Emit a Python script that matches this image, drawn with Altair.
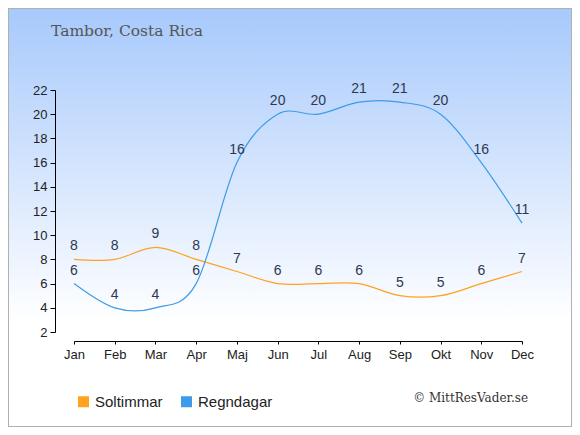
import altair as alt
import pandas as pd

months = ["Jan", "Feb", "Mar", "Apr", "Maj", "Jun", "Jul", "Aug", "Sep", "Okt", "Nov", "Dec"]
soltimmar = [8, 8, 9, 8, 7, 6, 6, 6, 5, 5, 6, 7]
regndagar = [6, 4, 4, 6, 16, 20, 20, 21, 21, 20, 16, 11]
series = ["Soltimmar", "Regndagar"]
colors = ["#ffa21f", "#3d9be9"]
y_ticks = list(range(2, 23, 2))
title_text = "Tambor, Costa Rica"
credit_text = "© MittResVader.se"

W, H = 448, 242
PL, PT, PR, PB = 66, 82, 50, 95

rows = []
for i, m in enumerate(months):
    rows.append({"month": m, "serie": series[0], "value": soltimmar[i]})
    rows.append({"month": m, "serie": series[1], "value": regndagar[i]})
df = pd.DataFrame(rows)

x = alt.X("month:O", sort=months, title=None,
          scale=alt.Scale(type="point", padding=0),
          axis=alt.Axis(labelAngle=0, offset=9, tickSize=3, labelPadding=4, zindex=2,
                        labelFont="Liberation Sans", labelFontSize=13, labelColor="#222",
                        labelOverlap=False,
                        domainColor="#000", tickColor="#000", grid=False))
y = alt.Y("value:Q", title=None,
          scale=alt.Scale(domain=[2, 22], nice=False, zero=False),
          axis=alt.Axis(values=y_ticks, offset=19, tickSize=5, labelPadding=3, zindex=2,
                        labelFont="Liberation Sans", labelFontSize=13, labelColor="#222",
                        labelOverlap=False,
                        domainColor="#000", tickColor="#000", grid=False))
cscale = alt.Scale(domain=series, range=colors)
legend = alt.Legend(title=None, orient="none", legendX=2, legendY=304,
                    direction="horizontal", symbolType="square", zindex=2,
                    symbolSize=121, symbolStrokeWidth=0, symbolOpacity=1,
                    labelFont="Liberation Sans", labelFontSize=15,
                    labelColor="#222", labelOffset=4)

bg = alt.Chart(pd.DataFrame({"a": [0]})).mark_rect(
    fill=alt.LinearGradient(gradient="linear",
                            stops=[alt.GradientStop(offset=0, color="#a7c9fc"),
                                   alt.GradientStop(offset=0.75, color="#ffffff"),
                                   alt.GradientStop(offset=1, color="#ffffff")],
                            x1=0, x2=0, y1=0, y2=1),
    stroke="#b0b0b0", strokeWidth=2
).encode(x=alt.value(-PL), x2=alt.value(W + PR), y=alt.value(-PT), y2=alt.value(H + PB))

legend_pts = alt.Chart(df).mark_square(size=0, opacity=1, filled=True).encode(
    x=x, y=y, color=alt.Color("serie:N", scale=cscale, legend=legend))

lines = alt.Chart(df).mark_line(interpolate="cardinal", strokeWidth=1.2).encode(
    x=x, y=y, color=alt.Color("serie:N", scale=cscale, legend=legend), detail="serie:N")

labels = alt.Chart(df).mark_text(baseline="alphabetic", dy=-9, font="Liberation Sans",
                                 fontSize=14, color="#2e3850").encode(
    x=x, y=y, text="value:Q")

title = alt.Chart(pd.DataFrame({"t": [title_text]})).mark_text(
    align="left", baseline="middle", font="DejaVu Serif", fontSize=15.5, color="#555"
).encode(x=alt.value(-23), y=alt.value(-59), text="t:N")

credit = alt.Chart(pd.DataFrame({"t": [credit_text]})).mark_text(
    align="right", baseline="middle", font="DejaVu Serif", fontSize=12, color="#333"
).encode(x=alt.value(454), y=alt.value(308), text="t:N")

chart = alt.layer(bg, legend_pts, lines, labels, title, credit).properties(
    width=W, height=H,
    autosize=alt.AutoSizeParams(type="none"),
    padding={"left": PL, "top": PT, "right": PR, "bottom": PB},
).configure_view(stroke=None).configure_legend(columnPadding=16)

chart.save("out.html", embed_options={"renderer": "svg", "actions": False})
